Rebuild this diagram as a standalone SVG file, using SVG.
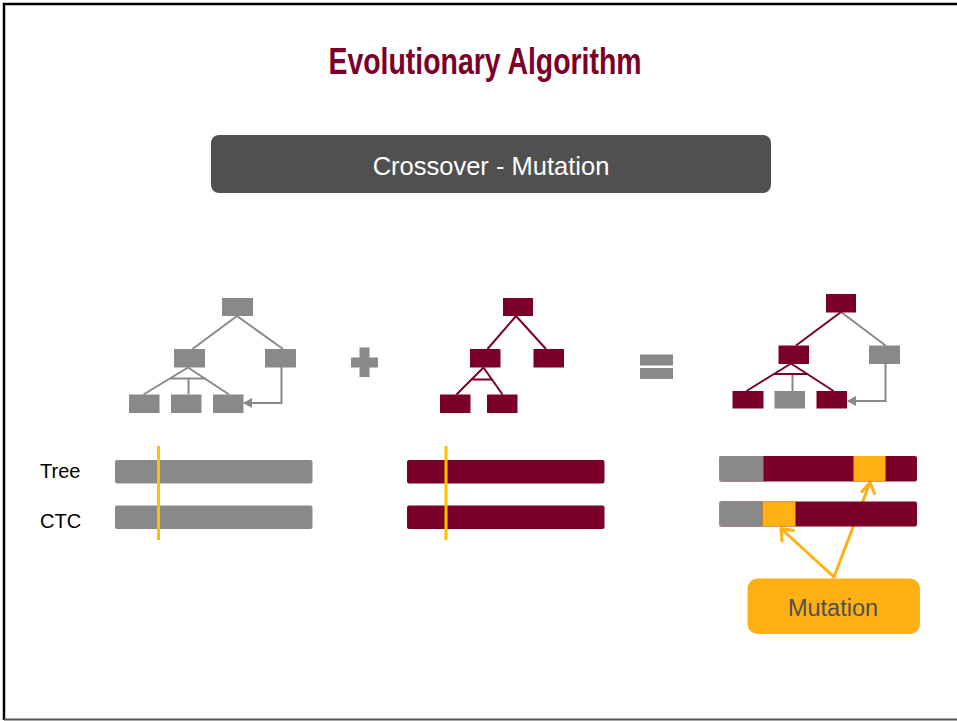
<svg xmlns="http://www.w3.org/2000/svg" width="957" height="721" viewBox="0 0 957 721">
<defs>
<style>
.g{fill:#898989}
.m{fill:#7a0029}
.o{fill:#ffb014}
.lg{stroke:#898989;stroke-width:2;fill:none}
.lm{stroke:#7a0029;stroke-width:2;fill:none}
.yl{stroke:#ffc000;stroke-width:3}
.ar{stroke:#ffb014;stroke-width:3;fill:none;stroke-linecap:round;stroke-linejoin:round}
.lbl{font-family:"Liberation Sans",Arial,sans-serif;font-size:20px;fill:#000}
</style>
<marker id="ga" markerWidth="10" markerHeight="10" refX="8" refY="5" orient="auto" markerUnits="userSpaceOnUse">
<path d="M0,0 L9,5 L0,10 Z" fill="#898989"/>
</marker>
</defs>
<rect width="957" height="721" fill="#fff"/>
<path d="M4,720 L4,4 L957,4" fill="none" stroke="#000" stroke-width="2.5"/>
<line x1="4" y1="719.5" x2="957" y2="719.5" stroke="#555" stroke-width="2"/>

<g id="title">
<text x="485" y="74" text-anchor="middle" textLength="313" lengthAdjust="spacingAndGlyphs" font-family="'Liberation Sans',Arial,sans-serif" font-weight="bold" font-size="36" fill="#7a0029">Evolutionary Algorithm</text>
</g>

<g id="header">
<rect x="211" y="135" width="560" height="58" rx="8" fill="#505050"/>
<text x="491" y="175" text-anchor="middle" font-family="'Liberation Sans',Arial,sans-serif" font-size="25.5" fill="#fff">Crossover - Mutation</text>
</g>

<g id="connectors">
<!-- tree 1 -->
<path class="lg" d="M237,316 L192.5,349 M237,316 L283,349"/>
<path class="lg" d="M188,367.5 L143.5,394.5 M188,367.5 L229,394.5 M170,378.5 L206,378.5 M188.5,378.5 L188.5,394.5"/>
<path class="lg" d="M281.5,367 L281.5,403 L244,403" marker-end="url(#ga)"/>
<!-- tree 2 -->
<path class="lm" d="M516,316 L487.5,349 M516,316 L546,349"/>
<path class="lm" d="M483.5,367.5 L456.5,394.5 M483.5,367.5 L502.5,394.5 M472.5,379.5 L492.5,379.5"/>
<!-- tree 3 -->
<path class="lm" d="M841,312 L796,345.5"/>
<path class="lg" d="M841,312 L885.5,345.5"/>
<path class="lg" d="M792.5,374 L792.5,391"/>
<path class="lm" d="M791,363.5 L746.5,391 M791,363.5 L833.5,391 M774,374 L808,374"/>
<path class="lg" d="M885.5,363.5 L885.5,401 L848,401" marker-end="url(#ga)"/>
<!-- mutation arrows -->
<path class="ar" d="M834,577 L781,528.5 M781,528.5 L782,541 M781,528.5 L793.5,530.5"/>
<path class="ar" d="M834,577 L870,482.5 M870,482.5 L862,491.5 M870,482.5 L874.5,493.5"/>
</g>

<g id="tree1">
<rect class="g" x="222" y="298" width="31" height="18"/>
<rect class="g" x="174" y="349" width="31" height="18.5"/>
<rect class="g" x="265" y="349" width="31" height="18.5"/>
<rect class="g" x="129" y="394.5" width="30.5" height="18.5"/>
<rect class="g" x="171" y="394.5" width="30.5" height="18.5"/>
<rect class="g" x="213" y="394.5" width="30.5" height="18.5"/>
</g>

<g id="plus">
<rect class="g" x="359.5" y="347.5" width="10" height="29.5"/>
<rect class="g" x="351" y="357.5" width="27" height="10"/>
</g>

<g id="tree2">
<rect class="m" x="503" y="298" width="30" height="18"/>
<rect class="m" x="470" y="349" width="30.5" height="18.5"/>
<rect class="m" x="533.5" y="349" width="30.5" height="18.5"/>
<rect class="m" x="440" y="394.5" width="30.5" height="18.5"/>
<rect class="m" x="487" y="394.5" width="30.5" height="18.5"/>
</g>

<g id="equals">
<rect class="g" x="640" y="354.5" width="33" height="11"/>
<rect class="g" x="640" y="368" width="33" height="11"/>
</g>

<g id="tree3">
<rect class="m" x="826" y="294" width="30" height="18.5"/>
<rect class="m" x="778.5" y="345.5" width="30.5" height="18.5"/>
<rect class="g" x="869" y="345.5" width="31" height="18.5"/>
<rect class="m" x="732.5" y="391" width="31" height="17.5"/>
<rect class="g" x="774.5" y="391" width="30.5" height="17.5"/>
<rect class="m" x="816.5" y="391" width="30.5" height="17.5"/>
</g>

<g id="labels">
<text class="lbl" x="40" y="478">Tree</text>
<text class="lbl" x="40" y="528">CTC</text>
</g>

<g id="parent1-bars">
<rect class="g" x="115" y="460" width="197.5" height="23.5" rx="2"/>
<rect class="g" x="115" y="505.5" width="197.5" height="23.5" rx="2"/>
<line class="yl" x1="158.5" y1="446" x2="158.5" y2="540"/>
</g>

<g id="parent2-bars">
<rect class="m" x="407" y="460" width="197.5" height="23.5" rx="2"/>
<rect class="m" x="407" y="505.5" width="197.5" height="23.5" rx="2"/>
<line class="yl" x1="446" y1="446" x2="446" y2="540"/>
</g>

<g id="child-bars">
<rect class="m" x="719.5" y="456" width="197.5" height="25.5" rx="2"/>
<rect class="g" x="719.5" y="456" width="44" height="25.5"/>
<rect class="o" x="853.5" y="456" width="32" height="25.5"/>
<rect class="m" x="719.5" y="501.5" width="197.5" height="25" rx="2"/>
<rect class="g" x="719.5" y="501.5" width="43" height="25"/>
<rect class="o" x="762.5" y="501.5" width="33" height="25"/>
</g>

<g id="mutation">
<rect class="o" x="747.5" y="578.5" width="172.5" height="55.5" rx="10"/>
<text x="833" y="616" text-anchor="middle" font-family="'Liberation Sans',Arial,sans-serif" font-size="23.5" fill="#505050">Mutation</text>
</g>
</svg>
